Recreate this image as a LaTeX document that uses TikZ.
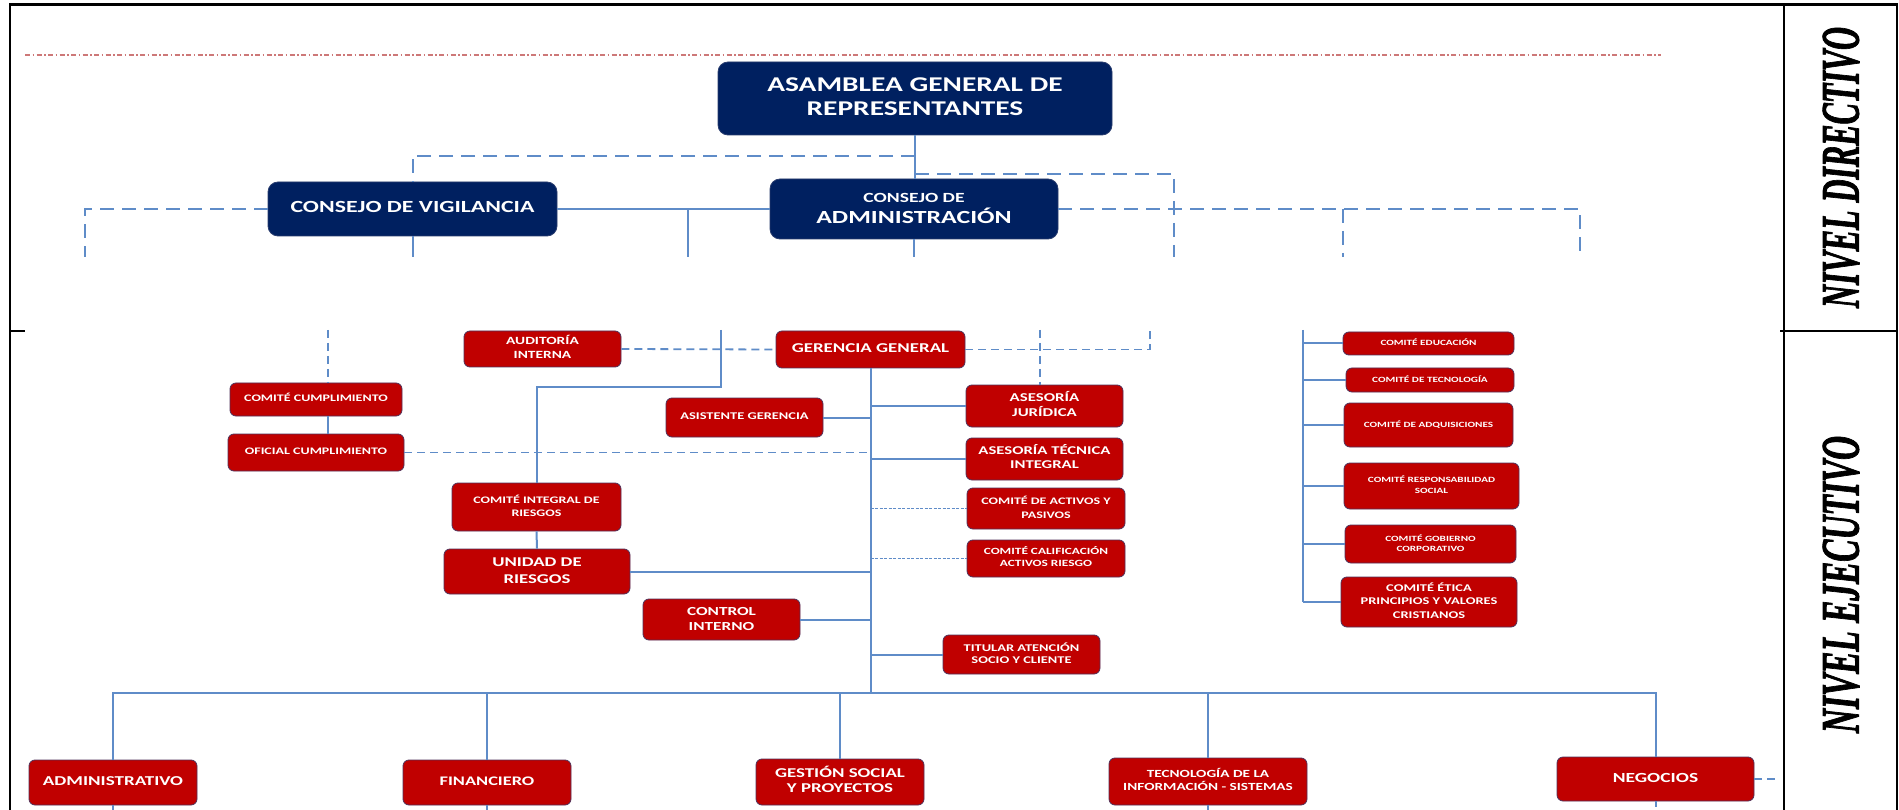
\documentclass[tikz,border=0pt]{standalone}
\usepackage{fontspec}
\setmainfont{Carlito}
\newfontfamily\nivfont{Liberation Serif}[BoldItalicFeatures={FakeBold=2}]
\usepackage{graphicx}
\definecolor{navy}{HTML}{002060}
\definecolor{cred}{HTML}{C00000}
\definecolor{cline}{RGB}{95,140,200}
\definecolor{redge}{RGB}{80,50,90}
\definecolor{nedge}{RGB}{40,60,110}
\definecolor{rdash}{RGB}{205,120,120}
\newcommand{\tb}[3]{\scalebox{1.4}[1]{\fontsize{#1}{#2}\selectfont\begin{tabular}{@{}c@{}}#3\end{tabular}}}
\begin{document}
\begin{tikzpicture}[x=1pt,y=-1pt,
 rbox/.style={rounded corners=6pt, fill=cred, draw=redge, line width=0.8pt, text=white, inner sep=0pt, font=\bfseries},
 nbox/.style={rounded corners=10pt, fill=navy, draw=nedge, line width=0.8pt, text=white, inner sep=0pt, font=\bfseries},
 sol/.style={draw=cline, line width=2pt},
 dshA/.style={draw=cline, line width=2pt, dash pattern=on 14pt off 8pt},
 dshB/.style={draw=cline, line width=1.8pt, dash pattern=on 8pt off 5pt},
 dshC/.style={draw=cline, line width=1.5pt, dash pattern=on 3pt off 1.5pt},
 rdashed/.style={draw=rdash, line width=1.8pt, dash pattern=on 5pt off 2.5pt on 1.5pt off 2.5pt},
 frm/.style={draw=black, line width=2.5pt},
 niv/.style={rotate=90, inner sep=0pt, text height=35pt, text depth=0pt}
]
\useasboundingbox (0,0) rectangle (1899,810);
\fill[white] (0,0) rectangle (1899,810);

% frame
\draw[frm] (10,810) -- (10,4.3) -- (1897,4.3) -- (1897,810);
\draw[frm] (1784,4.3) -- (1784,810);
\draw[frm] (1780,331) -- (1897,331);
\draw[frm] (10,331) -- (25,331);

% red dash-dot line
\coordinate (r0) at (25,55);
\coordinate (r1) at (1661,55);
\draw[rdashed] (r0) -- (r1);

% level labels
\node[niv] (nd) at (1841,167.5) {\scalebox{0.591}[1]{\nivfont\fontsize{54}{54}\selectfont\bfseries\itshape NIVEL DIRECTIVO}};
\node[niv] (ne) at (1841,584.5) {\scalebox{0.617}[1]{\nivfont\fontsize{54}{54}\selectfont\bfseries\itshape NIVEL EJECUTIVO}};

% navy boxes
\node[nbox, minimum width=394pt, minimum height=73pt] (asam) at (915,98.5) {\tb{21}{24}{ASAMBLEA GENERAL DE\\REPRESENTANTES}};
\node[nbox, minimum width=289pt, minimum height=54pt] (vig) at (412.5,209) {\tb{17}{20}{CONSEJO DE VIGILANCIA}};
\node[nbox, minimum width=288pt, minimum height=60pt] (adm) at (914,209) {\scalebox{1.4}[1]{\fontsize{14}{20}\selectfont\begin{tabular}{@{}c@{}}CONSEJO DE\\ \fontsize{18.5}{20}\selectfont ADMINISTRACIÓN\end{tabular}}};

% red boxes, centre
\node[rbox, minimum width=157pt, minimum height=36pt] (audit) at (542.5,349) {\tb{11}{14}{AUDITORÍA\\INTERNA}};
\node[rbox, minimum width=189pt, minimum height=37pt] (gg) at (870.5,349.5) {\tb{13.5}{16}{GERENCIA GENERAL}};
\node[rbox, minimum width=172pt, minimum height=33pt] (ccump) at (316,399.5) {\tb{10}{12}{COMITÉ CUMPLIMIENTO}};
\node[rbox, minimum width=176pt, minimum height=37pt] (ofic) at (316,452.5) {\tb{10}{12}{OFICIAL CUMPLIMIENTO}};
\node[rbox, minimum width=157pt, minimum height=39pt] (asist) at (744.5,417.5) {\tb{10.3}{12}{ASISTENTE GERENCIA}};
\node[rbox, minimum width=157pt, minimum height=42pt] (jur) at (1044.5,406) {\tb{12}{15}{ASESORÍA\\JURÍDICA}};
\node[rbox, minimum width=157pt, minimum height=42pt] (tec) at (1044.5,459) {\tb{11.9}{14}{ASESORÍA TÉCNICA\\INTEGRAL}};
\node[rbox, minimum width=158pt, minimum height=41pt] (act) at (1046,508.5) {\tb{10}{14}{COMITÉ DE ACTIVOS Y\\PASIVOS}};
\node[rbox, minimum width=158pt, minimum height=37pt] (calif) at (1046,558.5) {\tb{9.5}{12}{COMITÉ CALIFICACIÓN\\ACTIVOS RIESGO}};
\node[rbox, minimum width=169pt, minimum height=48pt] (cir) at (536.5,507) {\tb{10}{13}{COMITÉ INTEGRAL DE\\RIESGOS}};
\node[rbox, minimum width=186pt, minimum height=45pt] (uni) at (537,571.5) {\tb{13.4}{17}{UNIDAD DE\\RIESGOS}};
\node[rbox, minimum width=157pt, minimum height=41pt] (ci) at (721.5,619.5) {\tb{12.3}{15}{CONTROL\\INTERNO}};
\node[rbox, minimum width=157pt, minimum height=39pt] (tit) at (1021.5,654.5) {\tb{10.3}{12}{TITULAR ATENCIÓN\\SOCIO Y CLIENTE}};

% red boxes, committees
\node[rbox, minimum width=171pt, minimum height=23pt] (edu) at (1428.5,343.5) {\tb{8}{10}{COMITÉ EDUCACIÓN}};
\node[rbox, minimum width=168pt, minimum height=24pt] (tecn) at (1430,380) {\tb{8}{10}{COMITÉ DE TECNOLOGÍA}};
\node[rbox, minimum width=169pt, minimum height=44pt] (adq) at (1428.5,425) {\tb{8}{10}{COMITÉ DE ADQUISICIONES}};
\node[rbox, minimum width=175pt, minimum height=46pt] (resp) at (1431.5,486) {\tb{8}{11}{COMITÉ RESPONSABILIDAD\\SOCIAL}};
\node[rbox, minimum width=171pt, minimum height=38pt] (gob) at (1430.5,544) {\tb{8}{10}{COMITÉ GOBIERNO\\CORPORATIVO}};
\node[rbox, minimum width=176pt, minimum height=50pt] (etica) at (1429,602) {\tb{10.3}{13.5}{COMITÉ ÉTICA\\PRINCIPIOS Y VALORES\\CRISTIANOS}};

% red boxes, bottom
\node[rbox, minimum width=168pt, minimum height=45pt] (adm2) at (113,782.5) {\tb{13.6}{16}{ADMINISTRATIVO}};
\node[rbox, minimum width=168pt, minimum height=45pt] (fin) at (487,782.5) {\tb{13.1}{16}{FINANCIERO}};
\node[rbox, minimum width=168pt, minimum height=46pt] (ges) at (840,782) {\tb{13.5}{15}{GESTIÓN SOCIAL\\Y PROYECTOS}};
\node[rbox, minimum width=198pt, minimum height=47pt] (tic) at (1208,781.5) {\tb{10.9}{13}{TECNOLOGÍA DE LA\\INFORMACIÓN - SISTEMAS}};
\node[rbox, minimum width=197pt, minimum height=44pt] (neg) at (1655.5,779) {\tb{13.9}{16}{NEGOCIOS}};

% upper connectors
\coordinate (j1) at (915,156);
\coordinate (j2) at (915,174);
\coordinate (e0) at (85,257);
\coordinate (e1) at (1174,257);
\coordinate (e2) at (1343,257);
\coordinate (e3) at (1580,257);
\coordinate (e4) at (688,257);
\coordinate (e5) at (412.5,257);
\coordinate (e6) at (914,257);
\draw[sol] (asam.south) -- (asam.south |- adm.north);
\draw[dshA] (j1) -| (vig.north);
\draw[dshA] (j2) -| (e1);
\draw[dshA] (adm.east) -| (e3);
\draw[dshA] (e2 |- adm.east) -- (e2);
\draw[dshA] (vig.west) -| (e0);
\draw[sol] (vig.east) -- (adm.west);
\draw[sol] (e4 |- vig.east) -- (e4);
\draw[sol] (vig.south) -- (e5);
\draw[sol] (adm.south) -- (e6);

% lower connectors
\coordinate (s1) at (328,330);
\coordinate (s2) at (721,330);
\coordinate (s3) at (1040,330);
\coordinate (s4) at (1150,330);
\coordinate (cb) at (1303,330);
\coordinate (bus) at (870.5,693);
\coordinate (nE) at (1779,779);
\draw[dshB] (s1) -- (s1 |- ccump.north);
\draw[sol] (s1 |- ccump.south) -- (s1 |- ofic.north);
\draw[sol] (s2) -- ++(0,57) -| (cir.north);
\draw[sol] (cir.south) -- (uni.north);
\draw[dshB] (audit.east) -- (gg.west);
\draw[dshB] (gg.east) -| (s4);
\draw[dshB] (s3) -- (s3 |- jur.north);
\draw[sol] (gg.south) -- (bus);
\draw[sol] (asist.east) -- (asist.east -| gg.south);
\draw[sol] (gg.south |- jur.west) -- (jur.west);
\draw[sol] (gg.south |- tec.west) -- (tec.west);
\draw[dshC] (gg.south |- act.west) -- (act.west);
\draw[dshC] (gg.south |- calif.west) -- (calif.west);
\draw[sol] (uni.east) -- (uni.east -| gg.south);
\draw[sol] (ci.east) -- (ci.east -| gg.south);
\draw[sol] (gg.south |- tit.west) -- (tit.west);
\draw[dshB] (ofic.east) -- (ofic.east -| gg.south);
\draw[sol] (cb) -- (cb |- etica.west);
\foreach \n in {edu,tecn,adq,resp,gob,etica} \draw[sol] (cb |- \n.west) -- (\n.west);

% bottom bus
\draw[sol] (adm2.north) |- (neg.north |- bus) -- (neg.north);
\foreach \n in {fin,ges,tic} \draw[sol] (\n.north) -- (\n.north |- bus);
\foreach \n in {adm2,fin,tic,neg} \draw[sol] (\n.south) -- ++(0,6);
\draw[dshB] (neg.east) -- (neg.east -| nE);
\end{tikzpicture}
\end{document}
